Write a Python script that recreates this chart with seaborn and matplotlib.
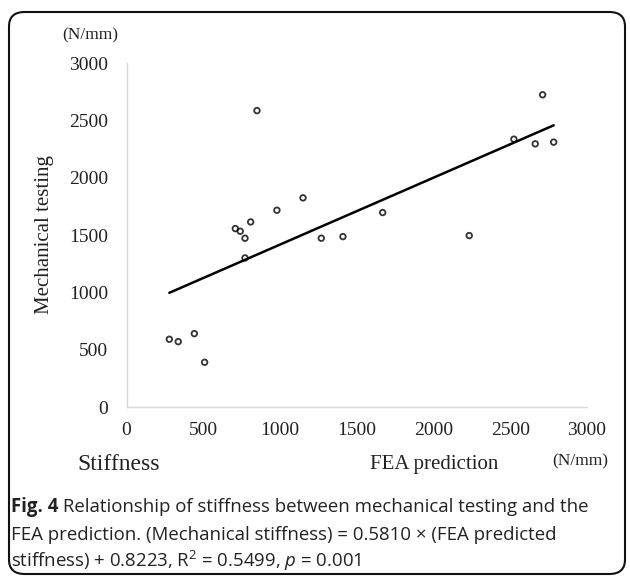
import matplotlib
matplotlib.use("Agg")
import matplotlib.pyplot as plt
import seaborn as sns
import pandas as pd
from matplotlib.patches import FancyBboxPatch

fea_prediction = [279, 337, 442, 509, 709, 741, 772, 772, 809, 850,
                  980, 1150, 1269, 1410, 1669, 2233, 2524, 2663, 2711, 2783]
mechanical_testing = [591, 570, 640, 390, 1556, 1533, 1472, 1300, 1614, 2585,
                      1716, 1824, 1472, 1486, 1696, 1495, 2336, 2295, 2723, 2310]
x_ticks = [0, 500, 1000, 1500, 2000, 2500, 3000]
y_ticks = [0, 500, 1000, 1500, 2000, 2500, 3000]

df = pd.DataFrame({"FEA": fea_prediction, "Mech": mechanical_testing})

sns.set_theme(style="white")
plt.rcParams["font.family"] = ["Liberation Serif", "DejaVu Serif"]
plt.rcParams["mathtext.fontset"] = "custom"
plt.rcParams["mathtext.it"] = "Open Sans:italic"
plt.rcParams["mathtext.rm"] = "Open Sans"

fig = plt.figure(figsize=(6.3, 5.76), dpi=100)
ax = fig.add_axes([0.2008, 0.2934, 0.7309, 0.5972])

sns.regplot(data=df, x="FEA", y="Mech", ax=ax, ci=None, truncate=True,
            scatter_kws=dict(s=16, facecolors="none", edgecolors="black", linewidths=1.3),
            line_kws=dict(color="black", lw=1.8))

ax.set_xlim(0, 3000)
ax.set_ylim(0, 3000)
ax.set_xticks(x_ticks)
ax.set_yticks(y_ticks)
ax.tick_params(axis="both", length=0, labelsize=14, colors="#222222")
ax.tick_params(axis="x", pad=11)
ax.tick_params(axis="y", pad=13)
ax.set_xlabel("")
ax.set_ylabel("")
for s in ["top", "right"]:
    ax.spines[s].set_visible(False)
for s in ["left", "bottom"]:
    ax.spines[s].set_color("#d9d9d9")
    ax.spines[s].set_linewidth(1.0)

fig.text(90/630, 1-35/576, "(N/mm)", ha="center", va="center", fontsize=12.5, color="#222222")
fig.text(45/630, 1-235/576, "Mechanical testing", ha="center", va="center",
         rotation=90, fontsize=15, color="#222222")
fig.text(77/630, 1-465/576, "Stiffness", ha="left", va="center", fontsize=17, color="#222222")
fig.text(434/630, 1-465/576, "FEA prediction", ha="center", va="center", fontsize=15, color="#222222")
fig.text(608/630, 1-461/576, "(N/mm)", ha="right", va="center", fontsize=12.5, color="#222222")

cap_kw = dict(va="center", fontsize=13.4, color="#222222", family=["Open Sans", "DejaVu Sans"])
t0 = fig.text(11/630, 1-507/576, "Fig. 4", ha="left", fontweight="bold", **cap_kw)
ax.annotate(" Relationship of stiffness between mechanical testing and the",
            xy=(1, 0.5), xycoords=t0, ha="left", annotation_clip=False, **cap_kw)
fig.text(11/630, 1-535/576,
         "FEA prediction. (Mechanical stiffness) = 0.5810 \u00d7 (FEA predicted", ha="left", **cap_kw)
fig.text(11/630, 1-561/576,
         "stiffness) + 0.8223, R$^2$ = 0.5499, $p$ = 0.001", ha="left", **cap_kw)

fig.patches.append(FancyBboxPatch((9/630, 1-574/576), 616/630, (574-12)/576,
                                  boxstyle="round,pad=0,rounding_size=0.025",
                                  transform=fig.transFigure, fill=False,
                                  edgecolor="#111111", linewidth=1.5))

fig.savefig("out.png", dpi=100)
